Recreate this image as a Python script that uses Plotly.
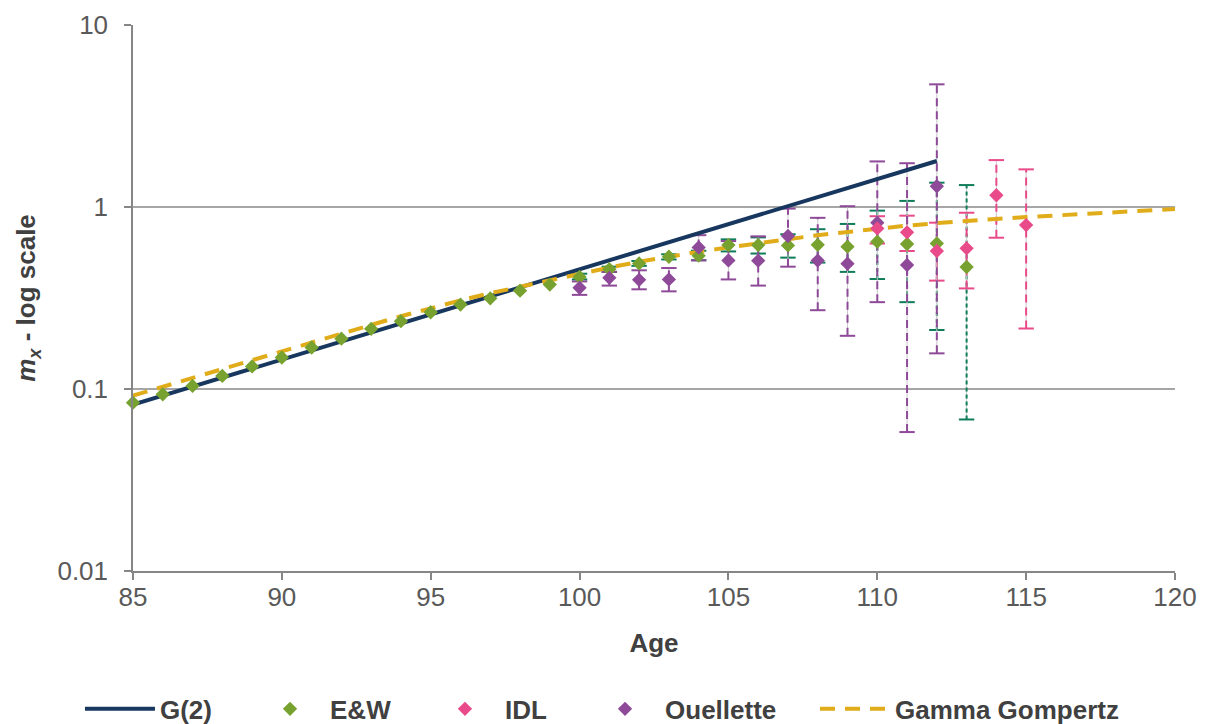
import plotly.graph_objects as go

# ---------------- data ----------------
ages_ew = list(range(85, 114))
mx_ew = [0.0841, 0.0935, 0.104, 0.118, 0.133, 0.149, 0.169, 0.189, 0.214, 0.236,
         0.264, 0.291, 0.315, 0.347, 0.375, 0.413, 0.455, 0.490, 0.533, 0.540,
         0.618, 0.618, 0.615, 0.620, 0.605, 0.645, 0.626, 0.631, 0.468]
ages_ew_err = list(range(100, 114))
ew_lo = [0.40, 0.44, 0.475, 0.515, 0.51, 0.57, 0.555, 0.527, 0.495, 0.44, 0.402, 0.30, 0.211, 0.068]
ew_hi = [0.43, 0.47, 0.505, 0.55, 0.575, 0.664, 0.681, 0.708, 0.755, 0.807, 0.955, 1.08, 1.36, 1.32]

ages_idl = [110, 111, 112, 113, 114, 115]
mx_idl = [0.763, 0.726, 0.573, 0.593, 1.16, 0.796]
idl_lo = [0.63, 0.573, 0.394, 0.357, 0.678, 0.215]
idl_hi = [0.89, 0.896, 0.82, 0.93, 1.81, 1.61]

ages_ou = list(range(100, 113))
mx_ou = [0.360, 0.408, 0.398, 0.400, 0.600, 0.509, 0.507, 0.693, 0.508, 0.488, 0.82, 0.48, 1.30]
ou_lo = [0.329, 0.370, 0.353, 0.344, 0.509, 0.40, 0.37, 0.47, 0.271, 0.196, 0.30, 0.058, 0.157]
ou_hi = [0.39, 0.44, 0.449, 0.462, 0.70, 0.65, 0.69, 0.98, 0.872, 1.01, 1.78, 1.74, 4.72]

ages_g2 = [85, 112]
mx_g2 = [0.082, 1.79]

ages_gg = list(range(85, 121))
mx_gg = [0.092, 0.103, 0.115, 0.129, 0.145, 0.162, 0.181, 0.202, 0.225, 0.251,
         0.279, 0.307, 0.336, 0.365, 0.396, 0.430, 0.465, 0.500, 0.535, 0.568,
         0.600, 0.635, 0.665, 0.700, 0.730, 0.760, 0.790, 0.815, 0.840, 0.860,
         0.880, 0.900, 0.920, 0.940, 0.957, 0.975]

x_ticks = [85, 90, 95, 100, 105, 110, 115, 120]
y_ticks = [0.01, 0.1, 1, 10]
y_tick_text = ["0.01", "0.1", "1", "10"]
grid_y = [0.1, 1]

# legend entry left positions (paper x), one legend box per entry
legend_x = {"legend": -0.0509, "legend2": 0.1123, "legend3": 0.2802,
            "legend4": 0.4338, "legend5": 0.6545}

# ---------------- styles ----------------
C_NAVY = "#17375E"
C_GREEN = "#77A22F"
C_PINK = "#E84A8A"
C_PURPLE = "#8E4A98"
C_GOLD = "#E0AC1A"
C_TEAL = "#0F7C5A"
FONT = "Liberation Sans, Arial, sans-serif"
TXT = "#404040"
FS = 26

fig = go.Figure()


def add_errbars(ages, lo, hi, color, dash):
    xs, ys = [], []
    for a, l, h in zip(ages, lo, hi):
        xs += [a, a, None]
        ys += [l, h, None]
    fig.add_trace(go.Scatter(x=xs, y=ys, mode="lines", showlegend=False, hoverinfo="skip",
                             line=dict(color="#C8C8C8", width=1)))
    fig.add_trace(go.Scatter(x=xs, y=ys, mode="lines", showlegend=False, hoverinfo="skip",
                             line=dict(color=color, width=2, dash=dash)))
    fig.add_trace(go.Scatter(x=list(ages) + list(ages), y=list(lo) + list(hi), mode="markers",
                             showlegend=False, hoverinfo="skip",
                             marker=dict(symbol="line-ew", size=11,
                                         line=dict(color=color, width=2))))


add_errbars(ages_ew_err, ew_lo, ew_hi, C_TEAL, "4px,3px")
add_errbars(ages_idl, idl_lo, idl_hi, C_PINK, "8px,5px")
add_errbars(ages_ou, ou_lo, ou_hi, C_PURPLE, "8px,5px")

fig.add_trace(go.Scatter(x=ages_g2, y=mx_g2, mode="lines", name="G(2)", legend="legend",
                         line=dict(color=C_NAVY, width=4)))
fig.add_trace(go.Scatter(x=ages_gg, y=mx_gg, mode="lines", name="Gamma Gompertz", legend="legend5",
                         line=dict(color=C_GOLD, width=4, dash="15px,10px")))
fig.add_trace(go.Scatter(x=ages_ew, y=mx_ew, mode="markers", name="E&W", legend="legend2",
                         cliponaxis=False,
                         marker=dict(symbol="diamond", size=11, color=C_GREEN)))
fig.add_trace(go.Scatter(x=ages_ou, y=mx_ou, mode="markers", name="Ouellette", legend="legend4",
                         cliponaxis=False,
                         marker=dict(symbol="diamond", size=11, color=C_PURPLE)))
fig.add_trace(go.Scatter(x=ages_idl, y=mx_idl, mode="markers", name="IDL", legend="legend3",
                         cliponaxis=False,
                         marker=dict(symbol="diamond", size=11, color=C_PINK)))

for gy in grid_y:
    fig.add_shape(type="line", xref="paper", yref="y", x0=0, x1=1, y0=gy, y1=gy,
                  line=dict(color="#A6A6A6", width=2), layer="below")

legend_style = dict(orientation="h", xanchor="left", y=-0.2527, yanchor="middle",
                    font=dict(family=FONT, size=FS, color=TXT, weight="bold"),
                    itemwidth=70, bgcolor="rgba(0,0,0,0)")
layout_legends = {k: dict(legend_style, x=v) for k, v in legend_x.items()}

fig.update_layout(
    width=1208, height=724,
    margin=dict(l=133, r=33, t=25, b=153, autoexpand=False),
    plot_bgcolor="white", paper_bgcolor="white",
    font=dict(family=FONT, size=FS, color=TXT),
    showlegend=True,
    **layout_legends,
)
fig.update_xaxes(range=[85, 120], tickvals=x_ticks, showgrid=False, zeroline=False,
                 automargin=False,
                 showline=True, linecolor="#868686", linewidth=1.5,
                 ticks="outside", ticklen=7, tickcolor="#868686", tickwidth=1.5,
                 ticklabelstandoff=-5,
                 tickfont=dict(family=FONT, size=FS, color="#595959"),
                 title=dict(text="<b>Age</b>", standoff=23,
                            font=dict(family=FONT, size=FS, color=TXT)))
fig.update_yaxes(type="log", range=[-2, 1], tickvals=y_ticks, ticktext=y_tick_text,
                 showgrid=False, zeroline=False, automargin=False,
                 showline=True, linecolor="#868686", linewidth=1.5,
                 ticks="outside", ticklen=7, tickcolor="#868686", tickwidth=1.5,
                 ticklabelstandoff=11,
                 tickfont=dict(family=FONT, size=FS, color="#595959"),
                 title=dict(text="<b><i>m</i><sub><i>x</i></sub> - log scale</b>", standoff=14,
                            font=dict(family=FONT, size=FS, color=TXT)))

fig.write_html("out.html")
